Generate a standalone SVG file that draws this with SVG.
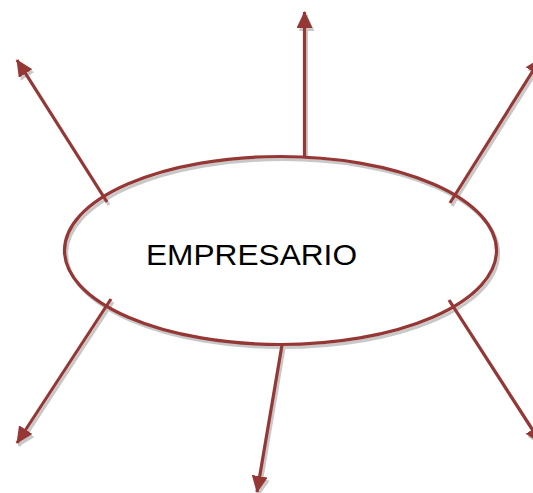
<svg xmlns="http://www.w3.org/2000/svg" xmlns:xlink="http://www.w3.org/1999/xlink" width="533" height="493" viewBox="0 0 533 493">
  <style>
    .edge { stroke: #953735; stroke-width: 3.2; fill: none; }
    .shadow { stroke: #c8c8c8; stroke-width: 3.2; fill: none; }
    .label { font-family: "Liberation Sans", Arial, sans-serif; font-size: 29px; fill: #000; }
  </style>
  <defs>
    <marker id="arrow" markerUnits="userSpaceOnUse" markerWidth="18" markerHeight="18" refX="16" refY="8" orient="auto" viewBox="0 0 18 18">
      <path d="M0,0 L17,8 L0,16 z" fill="#953735"/>
    </marker>
    <marker id="arrowShadow" markerUnits="userSpaceOnUse" markerWidth="18" markerHeight="18" refX="16" refY="8" orient="auto" viewBox="0 0 18 18">
      <path d="M0,0 L17,8 L0,16 z" fill="#c8c8c8"/>
    </marker>
  </defs>
  <rect width="533" height="493" fill="#fff"/>
  <g id="shadows" transform="translate(2,3)">
    <ellipse class="shadow" cx="280.5" cy="250.5" rx="216" ry="94"/>
    <line class="shadow" x1="304.5" y1="157" x2="304.5" y2="12" marker-end="url(#arrowShadow)"/>
    <line class="shadow" x1="107" y1="202" x2="17" y2="60" marker-end="url(#arrowShadow)"/>
    <line class="shadow" x1="450" y1="203" x2="541" y2="58" marker-end="url(#arrowShadow)"/>
    <line class="shadow" x1="111" y1="299" x2="17" y2="443" marker-end="url(#arrowShadow)"/>
    <line class="shadow" x1="282" y1="345" x2="257" y2="492" marker-end="url(#arrowShadow)"/>
    <line class="shadow" x1="449" y1="300" x2="541" y2="443" marker-end="url(#arrowShadow)"/>
  </g>
  <g id="empresario">
    <ellipse class="edge" cx="280.5" cy="250.5" rx="216" ry="94" fill="#fff"/>
    <text class="label" x="146" y="265" textLength="211" lengthAdjust="spacingAndGlyphs">EMPRESARIO</text>
  </g>
  <g id="connectors">
    <line class="edge" x1="304.5" y1="157" x2="304.5" y2="12" marker-end="url(#arrow)"/>
    <line class="edge" x1="107" y1="202" x2="17" y2="60" marker-end="url(#arrow)"/>
    <line class="edge" x1="450" y1="203" x2="541" y2="58" marker-end="url(#arrow)"/>
    <line class="edge" x1="111" y1="299" x2="17" y2="443" marker-end="url(#arrow)"/>
    <line class="edge" x1="282" y1="345" x2="257" y2="492" marker-end="url(#arrow)"/>
    <line class="edge" x1="449" y1="300" x2="541" y2="443" marker-end="url(#arrow)"/>
  </g>
</svg>
